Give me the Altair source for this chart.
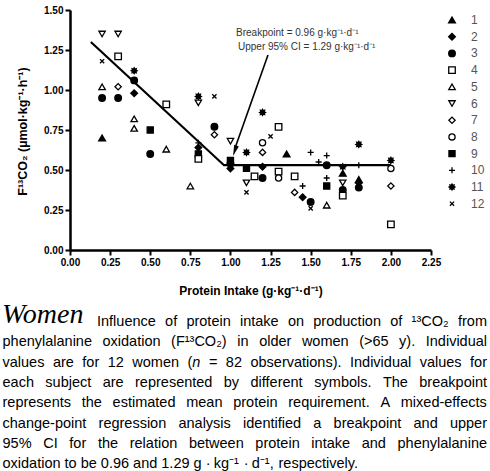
import math
import altair as alt
import pandas as pd

# ---------------- data ----------------
intake = [0.2, 0.2, 0.2, 0.2, 0.2,
          0.3, 0.3, 0.3, 0.3,
          0.4, 0.4, 0.4, 0.4, 0.4,
          0.5, 0.5,
          0.6, 0.6,
          0.75,
          0.8, 0.8, 0.8, 0.8, 0.8, 0.8,
          0.9, 0.9, 0.9,
          1.0, 1.0, 1.0, 1.0,
          1.1, 1.1, 1.1, 1.1,
          1.15,
          1.2, 1.2, 1.2, 1.2, 1.2,
          1.25,
          1.3, 1.3, 1.3,
          1.35,
          1.4, 1.4,
          1.45, 1.45,
          1.5, 1.5, 1.5,
          1.55,
          1.6, 1.6, 1.6, 1.6, 1.6,
          1.7, 1.7, 1.7, 1.7, 1.7,
          1.8, 1.8, 1.8, 1.8, 1.8,
          2.0, 2.0, 2.0, 2.0]
f13co2 = [1.35, 1.18, 1.02, 0.95, 0.70,
          1.35, 1.21, 1.02, 0.95,
          1.12, 1.06, 0.98, 0.82, 0.76,
          0.75, 0.60,
          0.91, 0.63,
          0.40,
          0.96, 0.92, 0.67, 0.64, 0.60, 0.57,
          0.96, 0.77, 0.72,
          0.68, 0.56, 0.54, 0.51,
          0.61, 0.51, 0.42, 0.36,
          0.46,
          0.86, 0.67, 0.61, 0.52, 0.45,
          0.71,
          0.77, 0.49, 0.45,
          0.60,
          0.46, 0.36,
          0.40, 0.33,
          0.61, 0.30, 0.26,
          0.55,
          0.59, 0.53, 0.45, 0.40, 0.28,
          0.52, 0.48, 0.42, 0.375, 0.34,
          0.66, 0.53, 0.44, 0.42, 0.39,
          0.56, 0.51, 0.40, 0.16]
subject = ["6", "12", "5", "3", "1",
           "6", "4", "7", "3",
           "11", "3", "2", "5", "5",
           "9", "3",
           "4", "5",
           "5",
           "11", "6", "10", "2", "9", "4",
           "12", "3", "7",
           "6", "9", "3", "2",
           "11", "9", "6", "12",
           "4",
           "11", "8", "7", "2", "3",
           "12",
           "4", "4", "8",
           "1",
           "4", "7",
           "10", "2",
           "10", "3", "12",
           "10",
           "10", "3", "10", "9", "5",
           "11", "1", "6", "3", "4",
           "11", "10", "1", "2", "3",
           "11", "8", "7", "4"]
subjects = [str(i) for i in range(1, 13)]

# change-point regression line
fit_x = [0.13, 0.96, 2.0]
fit_y = [1.30, 0.53, 0.53]

# annotation arrow
arrow_x = [1.234, 1.03]
arrow_y = [1.219, 0.64]
head_x = [1.027]
head_y = [0.62]
note_text = ["Breakpoint = 0.96 g·kg⁻¹·d⁻¹", "Upper 95% CI = 1.29 g·kg⁻¹·d⁻¹"]
note_x = [1.035, 1.047]
note_y = [1.356, 1.269]

x_ticks = [0, 0.25, 0.5, 0.75, 1.0, 1.25, 1.5, 1.75, 2.0, 2.25]
y_ticks = [0, 0.25, 0.5, 0.75, 1.0, 1.25, 1.5]

caption_title = "Women"
caption_lines = [
    "Influence of protein intake on production of ¹³CO₂ from",
    "phenylalanine oxidation (F¹³CO₂) in older women (>65 y). Individual",
    "values are for 12 women (n = 82 observations). Individual values for",
    "each subject are represented by different symbols. The breakpoint",
    "represents the estimated mean protein requirement. A mixed-effects",
    "change-point regression analysis identified a breakpoint and upper",
    "95% CI for the relation between protein intake and phenylalanine",
    "oxidation to be 0.96 and 1.29 g · kg⁻¹ · d⁻¹, respectively.",
]

# ---------------- layout constants ----------------
PL, PT = 70, 10          # plot origin in the page
W, H = 361, 240
FONT = "Liberation Sans"

# ---------------- helpers ----------------
def star_path(n=8, r1=1.0, r2=0.62):
    pts = []
    for k in range(2 * n):
        r = r1 if k % 2 == 0 else r2
        a = math.pi * k / n
        pts.append((r * math.sin(a), -r * math.cos(a)))
    return "M" + "L".join(f"{x:.3f},{y:.3f}" for x, y in pts) + "Z"

PLUS = "M-1,0L1,0M0,-1L0,1"
CROSS = "M-0.72,-0.72L0.72,0.72M-0.72,0.72L0.72,-0.72"
STAR = star_path()
shape_range = ["triangle-up", "diamond", "circle", "square", "triangle-up",
               "triangle-down", "diamond", "circle", "square", PLUS, STAR, CROSS]
fill_range = ["black", "black", "black", "white", "white", "white",
              "white", "white", "black", "black", "black", "black"]
size_range = [46, 34, 27, 27, 46, 46, 34, 27, 30, 36, 44, 32]

_chars = " !\"#$%&'()*+,-./0123456789:;<=>?@ABCDEFGHIJKLMNOPQRSTUVWXYZ[\\]^_`abcdefghijklmnopqrstuvwxyz{|}~"
_w = ([278, 278, 355, 556, 556, 889, 667, 191, 333, 333, 389, 584, 278, 333, 278, 278]
      + [556] * 10
      + [278, 278, 584, 584, 584, 556, 1015]
      + [667, 667, 722, 722, 667, 611, 778, 722, 278, 500, 667, 556, 833, 722, 778,
         667, 778, 722, 667, 611, 722, 667, 944, 667, 667, 611]
      + [278, 278, 278, 469, 556, 333]
      + [556, 556, 500, 556, 556, 278, 556, 556, 222, 222, 500, 222, 833, 556, 556,
         556, 556, 333, 500, 278, 556, 500, 722, 500, 500, 500]
      + [334, 260, 334, 584])
HELV = dict(zip(_chars, _w))
HELV.update({"¹": 333, "³": 333, "₂": 400, "⁻": 400, "·": 278})


def tw(s, size):
    return sum(HELV.get(c, 556) for c in s) * size / 1000.0


CAP_SIZE = 14.5
cap_rows, ital_rows = [], []
for i, line in enumerate(caption_lines):
    left = 97 if i == 0 else 2.5
    right = 487
    words = line.split(" ")
    widths = [tw(w, CAP_SIZE) for w in words]
    if i < len(caption_lines) - 1 and len(words) > 1:
        gap = (right - left - sum(widths)) / (len(words) - 1)
    else:
        gap = tw(" ", CAP_SIZE)
    x = left
    base = 326 + 20.3 * i
    for w, wd in zip(words, widths):
        if w == "(n":
            cap_rows.append({"t": "(", "cx": x - PL, "cy": base - PT})
            ital_rows.append({"t": "n", "cx": x + tw("(", CAP_SIZE) - PL, "cy": base - PT})
        else:
            cap_rows.append({"t": w, "cx": x - PL, "cy": base - PT})
        x += wd + gap
cap_df = pd.DataFrame(cap_rows)
ital_df = pd.DataFrame(ital_rows)

# ---------------- chart ----------------
pts = pd.DataFrame({"x": intake, "y": f13co2, "subject": subject})
fit = pd.DataFrame({"x": fit_x, "y": fit_y})
arrow = pd.DataFrame({"x": arrow_x, "y": arrow_y})
head = pd.DataFrame({"x": head_x, "y": head_y})
notes = pd.DataFrame({"x": note_x, "y": note_y, "t": note_text})

xs = alt.Scale(domain=[0, 2.25], nice=False, zero=False)
ys = alt.Scale(domain=[0, 1.5], nice=False, zero=False)

common_axis = dict(labelFont=FONT, labelFontWeight="bold", labelFontSize=10,
                   labelColor="black", tickSize=5, tickWidth=2, tickColor="black",
                   domainWidth=2.5, domainColor="black", labelPadding=2, grid=False,
                   format=".2f", labelOverlap=False, labelFlush=False,
                   titleFont=FONT, titleFontWeight="bold", titleColor="black")
x_axis = alt.Axis(values=x_ticks, titleFontSize=12,
                  titleX=W / 2, titleY=44, titleAlign="center",
                  titleBaseline="alphabetic", **common_axis)
y_axis = alt.Axis(values=y_ticks, titleFontSize=12.5,
                  titleX=22 - PL, titleY=131 - PT, titleAngle=270, titleAlign="center",
                  titleBaseline="middle", **common_axis)
X_TITLE = "Protein Intake (g·kg⁻¹·d⁻¹)"
Y_TITLE = "F¹³CO₂ (µmol·kg⁻¹·h⁻¹)"


def xy():
    return dict(x=alt.X("x:Q", scale=xs, axis=x_axis, title=X_TITLE),
                y=alt.Y("y:Q", scale=ys, axis=y_axis, title=Y_TITLE))


legend = alt.Legend(title=None, orient="none", legendX=376, legendY=4, padding=0,
                    symbolStrokeWidth=1.3, symbolStrokeColor="black",
                    symbolOpacity=1, labelFont=FONT, labelFontSize=12, labelColor="#555",
                    labelOffset=13, rowPadding=4.7)

line_layer = alt.Chart(fit).mark_line(color="black", strokeWidth=2.2).encode(**xy())

point_layer = alt.Chart(pts).mark_point(
    filled=True, strokeWidth=1.3, opacity=1
).encode(
    **xy(),
    shape=alt.Shape("subject:N", scale=alt.Scale(domain=subjects, range=shape_range), legend=legend),
    fill=alt.Fill("subject:N", scale=alt.Scale(domain=subjects, range=fill_range), legend=legend),
    stroke=alt.Stroke("subject:N", scale=alt.Scale(domain=subjects, range=["black"] * 12), legend=legend),
    size=alt.Size("subject:N", scale=alt.Scale(domain=subjects, range=size_range), legend=legend),
)

arrow_layer = alt.Chart(arrow).mark_line(color="black", strokeWidth=1.6).encode(**xy())
head_layer = alt.Chart(head).mark_point(
    shape="M0,-1L0.45,1L-0.45,1Z", filled=True, color="black", size=120, angle=199, opacity=1
).encode(**xy())
note_layer = alt.Chart(notes).mark_text(
    align="left", baseline="middle", font=FONT, fontSize=10, color="#333"
).encode(**xy(), text="t:N")

cap_layer = alt.Chart(cap_df).mark_text(
    align="left", baseline="alphabetic", font=FONT, fontSize=CAP_SIZE, color="black"
).encode(
    x=alt.X("cx:Q", scale=None),
    y=alt.Y("cy:Q", scale=None),
    text="t:N",
)
ital_layer = alt.Chart(ital_df).mark_text(
    align="left", baseline="alphabetic", font=FONT, fontSize=CAP_SIZE, fontStyle="italic",
    color="black"
).encode(
    x=alt.X("cx:Q", scale=None),
    y=alt.Y("cy:Q", scale=None),
    text="t:N",
)
title_layer = alt.Chart(pd.DataFrame({"t": [caption_title]})).mark_text(
    align="left", baseline="alphabetic", font="Liberation Serif", fontSize=28,
    fontStyle="italic", color="black"
).encode(
    x=alt.value(2 - PL),
    y=alt.value(323 - PT),
    text="t:N",
)

chart = alt.layer(
    line_layer, arrow_layer, head_layer, point_layer, note_layer,
    cap_layer, ital_layer, title_layer,
).properties(
    width=W, height=H,
    autosize=alt.AutoSizeParams(type="none"),
    padding={"left": PL, "top": PT, "right": 490 - PL - W, "bottom": 471 - PT - H},
    background="white",
).configure_view(stroke=None)

chart.save("out.html", embed_options={"renderer": "svg", "actions": False})
